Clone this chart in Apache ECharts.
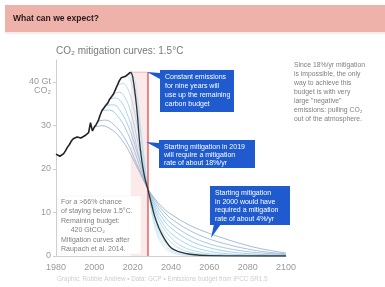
<!DOCTYPE html>
<html>
<head>
<meta charset="utf-8">
<script src="https://cdn.jsdelivr.net/npm/echarts@6/dist/echarts.min.js"></script>
<style>
  html, body { margin: 0; padding: 0; background: #fff; }
  #chart { width: 385px; height: 287px; }
</style>
</head>
<body>
<div id="chart"></div>
<script>
// 축 눈금
var xTicks = [1980, 2000, 2020, 2040, 2060, 2080, 2100];
var yTicks = [0, 10, 20, 30, 40];

// 역사적 배출량 (GtCO2/yr)
var histYears = [1980, 1981, 1982, 1983, 1984, 1985, 1986, 1987, 1988, 1989,
  1990, 1991, 1992, 1993, 1994, 1995, 1996, 1997, 1998, 1999,
  2000, 2001, 2002, 2003, 2004, 2005, 2006, 2007, 2008, 2009,
  2010, 2011, 2012, 2013, 2014, 2015, 2016, 2017, 2018, 2019];
var histValues = [23.4, 23.2, 22.9, 22.8, 23.5, 24.2, 25.0, 25.6, 26.4, 26.9,
  27.1, 27.3, 27.0, 27.1, 27.3, 27.6, 28.0, 28.3, 30.6, 28.7,
  29.6, 30.2, 31.0, 32.3, 33.4, 34.0, 34.6, 35.1, 36.0, 36.4,
  37.2, 38.2, 39.2, 40.2, 40.9, 41.3, 41.2, 41.0, 41.9, 42.2];

// 감축 곡선 (시작년도별)
var mit2000 = [[2000,29.6],[2004,29.9],[2008,29.3],[2012,27.9],[2016,25.6],[2020,22.4],[2024,18.9],[2028,15.4],[2032,12.9],[2036,11.0],[2040,9.6],[2050,7.0],[2060,5.2],[2070,3.7],[2080,2.4],[2090,1.4],[2100,0.7]];
var mit2002 = [[2002,31.0],[2006,31.2],[2010,30.2],[2014,28.3],[2018,25.3],[2022,21.3],[2026,17.3],[2028,15.4],[2032,12.5],[2036,10.3],[2040,8.6],[2050,5.8],[2060,3.9],[2070,2.6],[2080,1.6],[2090,0.9],[2100,0.5]];
var mit2004 = [[2004,33.4],[2008,33.5],[2012,32.2],[2016,29.5],[2020,25.3],[2024,20.2],[2028,15.3],[2032,11.9],[2036,9.4],[2040,7.5],[2050,4.6],[2060,2.8],[2070,1.7],[2080,1.0],[2090,0.6],[2100,0.3]];
var mit2006 = [[2006,34.6],[2010,34.7],[2014,33.0],[2018,29.5],[2022,24.2],[2026,18.4],[2028,15.4],[2032,11.2],[2036,8.4],[2040,6.4],[2050,3.5],[2060,1.9],[2070,1.0],[2080,0.55],[2090,0.3],[2100,0.15]];
var mit2008 = [[2008,36.0],[2011,36.3],[2014,35.4],[2017,32.8],[2020,28.8],[2024,21.7],[2028,15.3],[2032,10.5],[2036,7.3],[2040,5.2],[2050,2.4],[2060,1.1],[2070,0.5],[2080,0.25],[2100,0.05]];
var mit2010 = [[2010,37.2],[2013,37.6],[2016,36.4],[2019,33.0],[2022,27.6],[2025,21.4],[2028,15.4],[2031,11.0],[2034,7.9],[2038,5.2],[2045,2.4],[2055,0.9],[2065,0.35],[2080,0.08],[2100,0]];
var mit2012 = [[2012,39.2],[2015,39.6],[2018,37.8],[2021,33.0],[2024,25.5],[2026,20.4],[2028,15.4],[2031,10.2],[2034,6.8],[2038,4.1],[2045,1.6],[2055,0.5],[2070,0.08],[2100,0]];
var mit2014 = [[2014,40.9],[2017,41.3],[2020,38.8],[2023,31.8],[2026,21.8],[2028,15.4],[2030,10.8],[2033,6.4],[2036,3.8],[2040,1.9],[2048,0.5],[2060,0.08],[2100,0]];
var mit2016 = [[2016,41.2],[2018,41.8],[2020,40.5],[2022,36.4],[2024,29.5],[2026,22.0],[2028,15.4],[2030,10.2],[2032,6.7],[2035,3.6],[2040,1.3],[2048,0.3],[2060,0.04],[2100,0]];
var mit2018 = [[2018,41.9],[2020,41.8],[2022,38.0],[2024,30.5],[2026,22.5],[2028,15.4],[2030,9.8],[2032,6.0],[2035,2.9],[2040,0.9],[2050,0.1],[2100,0]];
var mit2019 = [[2019,42.2],[2020,41.2],[2022,34.5],[2024,24.5],[2026,18.6],[2028,15.2],[2030,11.6],[2032,8.4],[2035,5.2],[2040,1.9],[2045,0.9],[2050,0.4],[2060,0.1],[2100,0]];

// 9년간 일정 배출
var constYears = [2019, 2028];
var constLevel = 42.2;

var mitCurves = [mit2000, mit2002, mit2004, mit2006, mit2008, mit2010, mit2012, mit2014, mit2016, mit2018];
var mitColors = ['#7f9dc0', '#7fa6cc', '#7eb0d6', '#80badf', '#86c3e6', '#8ecbea', '#98d2ee', '#a3d8f0', '#aedef2', '#b9e3f4'];

var FONT = 'Liberation Sans, Arial, sans-serif';

var dom = document.getElementById('chart');
var myChart = echarts.init(dom, null, { renderer: 'canvas' });
var option;

var series = [];

// 분홍 영역
series.push({
  type: 'line',
  data: [[constYears[0], constLevel], [constYears[1], constLevel]],
  symbol: 'none',
  lineStyle: { color: '#f3a6a6', width: 0.8 },
  areaStyle: { color: 'rgba(244,170,170,0.35)', origin: 0 },
  z: 1,
  silent: true
});

mitCurves.forEach(function (c, i) {
  series.push({
    type: 'line',
    data: c,
    smooth: 0.4,
    symbol: 'none',
    lineStyle: { color: mitColors[i], width: 0.7 },
    z: 2,
    silent: true
  });
});

// 빨간 선
series.push({
  type: 'line',
  data: [[constYears[1], constLevel], [constYears[1], 0]],
  symbol: 'none',
  lineStyle: { color: '#e23b3b', width: 1.2 },
  z: 3,
  silent: true
});

// 2019 시작 (검정)
series.push({
  type: 'line',
  data: mit2019,
  smooth: 0.4,
  symbol: 'none',
  lineStyle: { color: '#333', width: 1.3 },
  z: 4,
  silent: true
});

series.push({
  type: 'line',
  data: histYears.map(function (y, i) { return [y, histValues[i]]; }),
  symbol: 'none',
  lineStyle: { color: '#222', width: 1.6 },
  z: 5,
  silent: true
});

function box(x, y, w, h, lines, tail, lh) {
  return [
    { type: 'polygon', shape: { points: tail }, style: { fill: '#1f5bcf' }, z: 10 },
    { type: 'rect', shape: { x: x, y: y, width: w, height: h }, style: { fill: '#1f5bcf' }, z: 10 },
    { type: 'text', x: x + 5, y: y + 3, z: 11,
      style: { text: lines.join('\n'), fill: '#fff', fontSize: 7, fontFamily: FONT, lineHeight: lh } }
  ];
}

var graphics = [
  { type: 'rect', shape: { x: 5, y: 5, width: 380, height: 27 }, style: { fill: '#efb2ab' }, z: 0 },
  { type: 'rect', shape: { x: 5, y: 32, width: 380, height: 2 }, style: { fill: '#f6eeee' }, z: 0 },
  { type: 'text', x: 13, y: 14, style: { text: 'What can we expect?', fill: '#2a1a1a', fontSize: 8.5, fontFamily: FONT, fontWeight: 'bold' } },
  { type: 'text', x: 56, y: 46, style: { text: 'CO₂ mitigation curves: 1.5°C', fill: '#7a7a7a', fontSize: 10, fontFamily: FONT } },
  { type: 'text', x: 294, y: 61, style: { text: 'Since 18%/yr mitigation\nis impossible, the only\nway to achieve this\nbudget is with very\nlarge "negative"\nemissions: pulling CO₂\nout of the atmosphere.', fill: '#808080', fontSize: 6.8, fontFamily: FONT, lineHeight: 8.9 } },
  { type: 'rect', shape: { x: 58, y: 196, width: 83, height: 58 }, style: { fill: '#fff', stroke: '#eee', lineWidth: 0.5 }, z: 6 },
  { type: 'text', x: 61, y: 197, z: 7, style: { text: 'For a >66% chance\nof staying below 1.5°C.\nRemaining budget:\n     420 GtCO₂\nMitigation curves after\nRaupach et al. 2014.', fill: '#808080', fontSize: 7, fontFamily: FONT, lineHeight: 9.5 } },
  { type: 'text', x: 57, y: 276, style: { text: 'Graphic: Robbie Andrew • Data: GCP • Emissions budget from IPCC SR1.5', fill: '#cdcdcd', fontSize: 6.3, fontFamily: FONT } }
];

graphics = graphics.concat(
  box(160, 70, 74, 42, ['Constant emissions', 'for nine years will', 'use up the remaining', 'carbon budget'],
    [[160, 73], [147, 72], [160, 79]], 9),
  box(159, 140, 96, 28, ['Starting mitigation in 2019', 'will require a mitigation', 'rate of about 18%/yr'],
    [[159, 143], [146, 142], [159, 149]], 8),
  box(210, 186, 80, 39, ['Starting mitigation', 'in 2000 would have', 'required a mitigation', 'rate of about 4%/yr'],
    [[214, 224], [211, 238], [221, 224]], 8.6)
);

option = {
  animation: false,
  grid: { left: 56, right: 99, top: 60, bottom: 31, containLabel: false },
  xAxis: {
    type: 'value',
    min: 1980,
    max: 2100,
    interval: 20,
    axisLine: { show: true, lineStyle: { color: '#cfcfcf', width: 1 } },
    axisTick: { show: false },
    splitLine: { show: false },
    axisLabel: {
      customValues: xTicks,
      color: '#9a9a9a', fontSize: 9, fontFamily: FONT, margin: 7,
      formatter: function (v) { return String(v); }
    }
  },
  yAxis: {
    type: 'value',
    min: 0,
    max: 45,
    interval: 10,
    axisLine: { show: true, lineStyle: { color: '#cfcfcf', width: 1 } },
    axisTick: { show: true, customValues: yTicks, length: 3, lineStyle: { color: '#cfcfcf' } },
    splitLine: { show: false },
    axisLabel: {
      customValues: yTicks,
      color: '#9a9a9a', fontSize: 9, fontFamily: FONT, margin: 5, lineHeight: 9,
      formatter: function (v) { return v === 40 ? ' \n40 Gt\nCO₂' : String(v); }
    }
  },
  graphic: graphics,
  series: series
};

if (option && typeof option === 'object') {
  myChart.setOption(option);
}
window.onresize = () => {
  myChart.resize();
}
</script>
</body>
</html>
